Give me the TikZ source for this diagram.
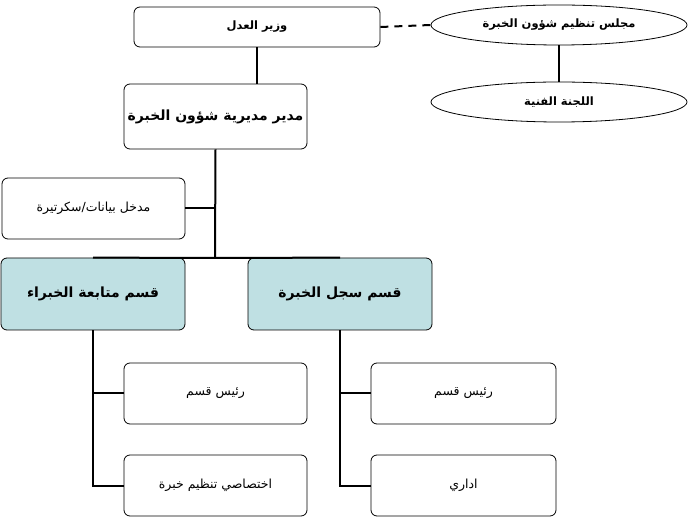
\documentclass[tikz,border=0pt]{standalone}
\usepackage{fontspec}
\newfontfamily\ar[Script=Arabic]{DejaVu Sans}
\usetikzlibrary{shapes.geometric}
\TeXXeTstate=1
\newcommand{\AR}[1]{\beginR #1\endR}
\begin{document}
\begin{tikzpicture}[x=1pt,y=-1pt,
 bx/.style={draw,rounded corners=6pt,line width=0.8pt,font=\ar\fontsize{12.5}{15}\selectfont},
 el/.style={draw,ellipse,line width=0.8pt,minimum width=256pt,minimum height=40pt,font=\ar\bfseries\fontsize{11.5}{14}\selectfont},
 ln/.style={line width=2pt}]
\useasboundingbox (0,0) rectangle (691,518);
\definecolor{lb}{HTML}{BFE0E3}
\node[bx,font=\ar\bfseries\fontsize{11.5}{14}\selectfont,minimum width=246pt,minimum height=40pt] (w) at (257,27) {\AR{وزير العدل}};
\node[el] (m) at (559,25) {\AR{مجلس تنظيم شؤون الخبرة}};
\node[el] (l) at (559,102) {\AR{اللجنة الفنية}};
\node[bx,font=\ar\bfseries\fontsize{14}{16}\selectfont,minimum width=183pt,minimum height=65pt] (d) at (215.5,116.5) {\AR{مدير مديرية شؤون الخبرة}};
\node[bx,minimum width=183pt,minimum height=61pt] (s) at (93.5,208.5) {\AR{مدخل بيانات/سكرتيرة}};
\node[bx,fill=lb,font=\ar\bfseries\fontsize{14}{16}\selectfont,minimum width=184pt,minimum height=72pt] (q1) at (93,294) {\AR{قسم متابعة الخبراء}};
\node[bx,fill=lb,font=\ar\bfseries\fontsize{14}{16}\selectfont,minimum width=184pt,minimum height=72pt] (q2) at (340,294) {\AR{قسم سجل الخبرة}};
\node[bx,minimum width=183pt,minimum height=61pt] (a1) at (215.5,393.5) {\AR{رئيس قسم}};
\node[bx,minimum width=183pt,minimum height=61pt] (a2) at (215.5,485.5) {\AR{اختصاصي تنظيم خبرة}};
\node[bx,minimum width=185pt,minimum height=61pt] (b1) at (463.5,393.5) {\AR{رئيس قسم}};
\node[bx,minimum width=185pt,minimum height=61pt] (b2) at (463.5,485.5) {\AR{اداري}};
\draw[ln,dashed,dash pattern=on 8pt off 6pt] (w.east) -- (m.west);
\draw[ln] (m.south) -- (l.north);
\draw[ln] (w.south) -- (d.north -| w.south);
\coordinate (j) at (215,258);
\draw[ln] (d.south) -- (j);
\draw[ln] (s.east) -- (s.east -| j);
\draw[ln] (q1.north) -- (j) -- (q2.north);
\draw[ln] (q1.south) -- (q1.south |- a2.west) -- (a2.west);
\draw[ln] (q1.south |- a1.west) -- (a1.west);
\draw[ln] (q2.south) -- (q2.south |- b2.west) -- (b2.west);
\draw[ln] (q2.south |- b1.west) -- (b1.west);
\end{tikzpicture}
\end{document}
